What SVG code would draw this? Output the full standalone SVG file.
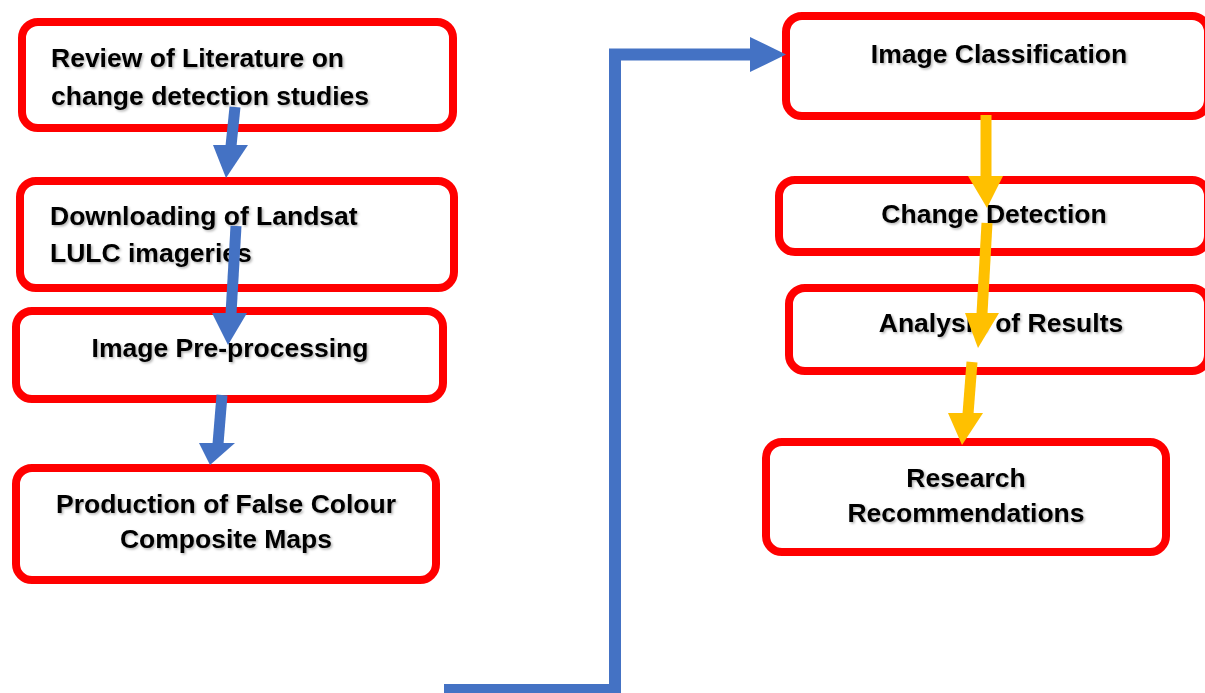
<svg xmlns="http://www.w3.org/2000/svg" width="1205" height="693" viewBox="0 0 1205 693">
<defs>
<style>
.box{fill:#fff;stroke:#ff0000;stroke-width:8}
.t{font-family:"Liberation Sans",Arial,sans-serif;font-weight:bold;font-size:26.5px;fill:#000;filter:url(#sh)}
.c{text-anchor:middle}
.bl{stroke:#4472c4;fill:none}
.bf{fill:#4472c4}
.yl{stroke:#ffc000;fill:none}
.yf{fill:#ffc000}
</style>
<filter id="sh" x="-5%" y="-20%" width="110%" height="140%">
<feDropShadow dx="1.5" dy="1.5" stdDeviation="0.8" flood-color="#000" flood-opacity="0.3"/>
</filter>
</defs>
<rect width="1205" height="693" fill="#fff"/>
<g id="n1"><rect class="box" x="22" y="22" width="431" height="106" rx="16"/>
<text class="t" x="51" y="67">Review of Literature on</text>
<text class="t" x="51" y="105">change detection studies</text></g>
<g id="n2"><rect class="box" x="20" y="181" width="434" height="107" rx="16"/>
<text class="t" x="50" y="225">Downloading of Landsat</text>
<text class="t" x="50" y="262">LULC imageries</text></g>
<g id="n3"><rect class="box" x="16" y="311" width="427" height="88" rx="16"/>
<text class="t c" x="230" y="357">Image Pre-processing</text></g>
<g id="n4"><rect class="box" x="16" y="468" width="420" height="112" rx="16"/>
<text class="t c" x="226" y="513">Production of False Colour</text>
<text class="t c" x="226" y="548">Composite Maps</text></g>
<g id="n5"><rect class="box" x="786" y="16" width="422" height="100" rx="16"/>
<text class="t c" x="999" y="63">Image Classification</text></g>
<g id="n6"><rect class="box" x="779" y="180" width="429" height="72" rx="16"/>
<text class="t c" x="994" y="223">Change Detection</text></g>
<g id="n7"><rect class="box" x="789" y="288" width="419" height="83" rx="16"/>
<text class="t c" x="1001" y="332">Analysis of Results</text></g>
<g id="n8"><rect class="box" x="766" y="442" width="400" height="110" rx="16"/>
<text class="t c" x="966" y="487">Research</text>
<text class="t c" x="966" y="522">Recommendations</text></g>
<g id="connectors">
<line class="bl" x1="235" y1="107" x2="231" y2="146" stroke-width="11"/>
<polygon class="bf" points="213,145 248,145 226,178"/>
<line class="bl" x1="236" y1="226" x2="231" y2="314" stroke-width="11"/>
<polygon class="bf" points="212,313 247,313 228,345"/>
<line class="bl" x1="222" y1="395" x2="218" y2="444" stroke-width="11"/>
<polygon class="bf" points="199,443 235,443 210,465"/>
<polyline class="bl" points="444,690 615,690 615,54.5 752,54.5" stroke-width="12" stroke-linejoin="miter"/>
<polygon class="bf" points="750,37 750,72 786,54.5"/>
<line class="yl" x1="986" y1="115" x2="986" y2="177" stroke-width="11"/>
<polygon class="yf" points="968,176 1003,176 987,208"/>
<line class="yl" x1="987" y1="223" x2="982" y2="314" stroke-width="11"/>
<polygon class="yf" points="965,313 999,313 978,348"/>
<line class="yl" x1="972" y1="362" x2="968" y2="414" stroke-width="11"/>
<polygon class="yf" points="948,413 983,413 962,445"/>
</g>
</svg>
